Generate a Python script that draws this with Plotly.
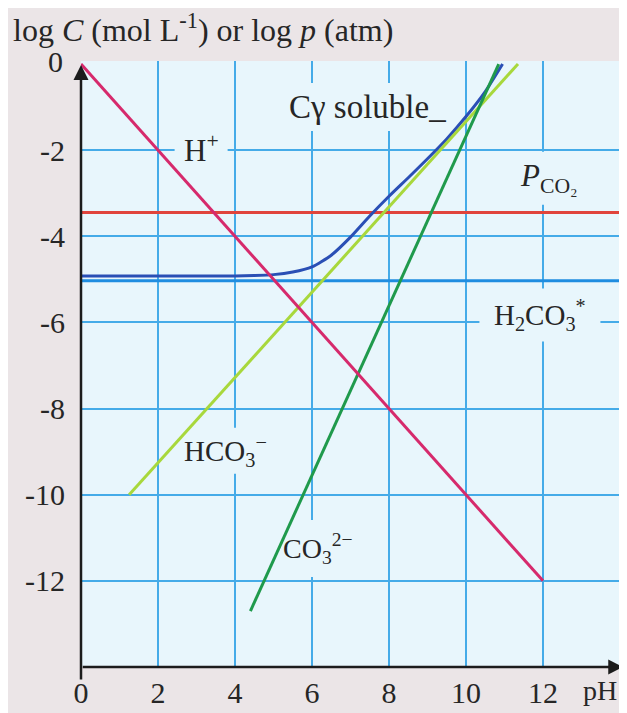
import plotly.graph_objects as go

# ---- data ----
ph_h = [0, 12]
log_h = [0, -12]

ph_hco3 = [1.25, 11.35]
log_hco3 = [-10.0, 0.0]

ph_co3 = [4.4, 10.85]
log_co3 = [-12.7, 0.0]

ph_flat = [0, 14]
log_pco2 = [-3.45, -3.45]
log_h2co3 = [-5.03, -5.03]

ph_ct = [0, 1, 2, 3, 4, 4.5, 5, 5.5, 6, 6.5, 7, 7.5, 8, 8.5, 9, 9.5, 10, 10.5, 10.95]
log_ct = [-4.92, -4.92, -4.92, -4.92, -4.92, -4.91, -4.89, -4.83, -4.71, -4.44,
          -4.02, -3.53, -3.07, -2.64, -2.2, -1.74, -1.22, -0.64, 0.0]

x_ticks = [0, 2, 4, 6, 8, 10, 12]
x_ticktext = ["0", "2", "4", "6", "8", "10", "12"]
y_ticks = [-2, -4, -6, -8, -10, -12]
y_ticktext = ["-2", "-4", "-6", "-8", "-10", "-12"]

# ---- styles ----
FONT = "Liberation Serif"
TXT = "#262626"
PLOT_BG = "#e8f6fc"
PAPER_BG = "#ebe5e7"
GRID = "#45abe8"
FS = 30

fig = go.Figure()
fig.add_trace(go.Scatter(x=ph_flat, y=log_h2co3, mode="lines",
                         line=dict(color="#1f8de0", width=3), hoverinfo="skip"))
fig.add_trace(go.Scatter(x=ph_flat, y=log_pco2, mode="lines",
                         line=dict(color="#e0443c", width=3), hoverinfo="skip"))
fig.add_trace(go.Scatter(x=ph_ct, y=log_ct, mode="lines",
                         line=dict(color="#2a4fb5", width=3, shape="spline", smoothing=0.6),
                         hoverinfo="skip"))
fig.add_trace(go.Scatter(x=ph_hco3, y=log_hco3, mode="lines",
                         line=dict(color="#a8d83c", width=3), hoverinfo="skip"))
fig.add_trace(go.Scatter(x=ph_co3, y=log_co3, mode="lines",
                         line=dict(color="#1f9a4c", width=3), hoverinfo="skip"))
fig.add_trace(go.Scatter(x=ph_h, y=log_h, mode="lines",
                         line=dict(color="#d62a6c", width=3), hoverinfo="skip"))

ann = []
shapes = []
# axis arrows
ann.append(dict(xref="paper", yref="paper", x=1.006, y=0, axref="pixel", ayref="pixel",
                ax=-542, ay=0, showarrow=True, arrowhead=2, arrowsize=1.2,
                arrowwidth=2.5, arrowcolor="#1c1c1c", text=""))
ann.append(dict(xref="paper", yref="paper", x=0, y=0.9935, axref="pixel", ayref="pixel",
                ax=0, ay=616, showarrow=True, arrowhead=2, arrowsize=1.2,
                arrowwidth=2.5, arrowcolor="#1c1c1c", text=""))
# title
ann.append(dict(xref="paper", yref="paper", x=-0.13, y=1.0, xanchor="left", yanchor="bottom",
                yshift=11, showarrow=False,
                text="log <i>C</i> (mol L<sup>-1</sup>) or log <i>p</i> (atm)",
                font=dict(family=FONT, size=32, color=TXT)))
# y "0" label
ann.append(dict(xref="x", yref="y", x=0, y=0, xanchor="right", xshift=-16, yshift=3,
                showarrow=False, text="0", font=dict(family=FONT, size=FS, color=TXT)))
# pH label
ann.append(dict(xref="paper", yref="paper", x=0.962, y=0, xanchor="center", yanchor="top",
                yshift=-6, showarrow=False, text="pH",
                font=dict(family=FONT, size=28, color=TXT)))


def lab(x, y, text, w, h, size=FS, mdx=0):
    # mask box hiding grid lines behind a label (pixel size, anchored at data point)
    shapes.append(dict(type="rect", xref="x", yref="y", xsizemode="pixel", ysizemode="pixel",
                       xanchor=x, yanchor=y, x0=-w / 2 + mdx, x1=w / 2 + mdx,
                       y0=-h / 2, y1=h / 2, fillcolor=PLOT_BG, line=dict(width=0),
                       layer="above"))
    ann.append(dict(xref="x", yref="y", x=x, y=y, text=text, showarrow=False,
                    font=dict(family=FONT, size=size, color=TXT)))


lab(7.45, -1.0, "Cγ soluble_", 156, 48, size=33)
lab(3.12, -1.97, "H<sup>+</sup>", 53, 26, size=31)
lab(12.15, -2.65, "<i>P</i><sub>CO₂</sub>", 85, 53, size=31)
lab(11.92, -5.83, "H<sub>2</sub>CO<sub>3</sub><sup>*</sup>", 121, 53, size=29)
lab(3.75, -8.98, "HCO<sub>3</sub><sup>−</sup>", 66, 46, size=29, mdx=8)
lab(6.15, -11.25, "CO<sub>3</sub><sup>2−</sup>", 52, 57, size=28, mdx=6)

fig.update_layout(
    width=627, height=713,
    margin=dict(l=73, r=15, t=53, b=40),
    paper_bgcolor=PAPER_BG, plot_bgcolor=PLOT_BG,
    showlegend=False,
    annotations=ann,
    shapes=shapes,
    xaxis=dict(range=[0, 14], tickmode="array", tickvals=x_ticks, ticktext=x_ticktext,
               showgrid=True, gridcolor=GRID, gridwidth=2, zeroline=False,
               showline=False, ticks="", ticklabelstandoff=5,
               tickfont=dict(family=FONT, size=FS, color=TXT)),
    yaxis=dict(range=[-14, 0.07], tickmode="array", tickvals=y_ticks, ticktext=y_ticktext,
               showgrid=True, gridcolor=GRID, gridwidth=2, zeroline=False,
               showline=False, ticks="", ticklabelstandoff=15,
               tickfont=dict(family=FONT, size=FS, color=TXT)),
)

fig.write_html("out.html")
